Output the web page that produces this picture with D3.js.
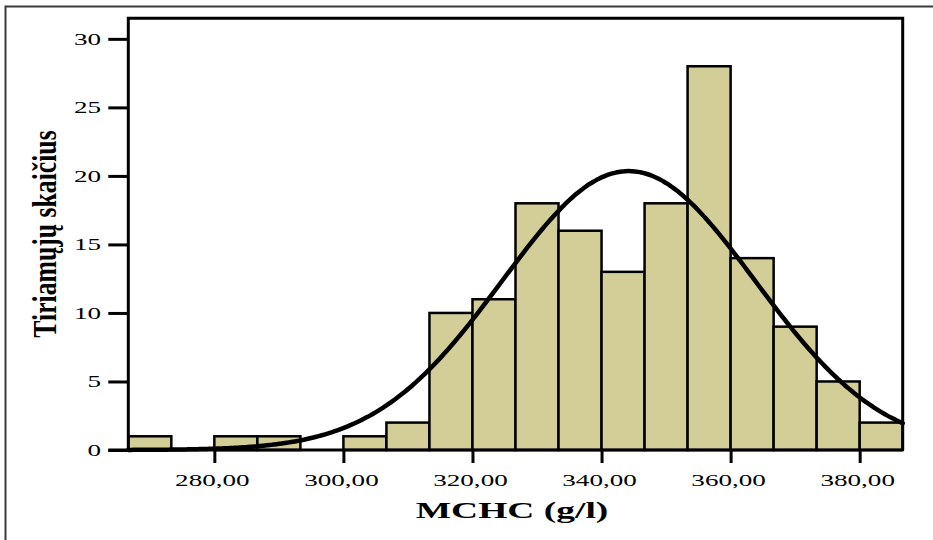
<!DOCTYPE html>
<html>
<head>
<meta charset="utf-8">
<script src="https://cdn.jsdelivr.net/npm/d3@7"></script>
<style>
  html, body { margin: 0; padding: 0; background: #fff; }
  svg { display: block; }
  text { font-family: "Liberation Serif", "Times New Roman", serif; fill: #000; }
</style>
</head>
<body>
<svg id="chart" width="933" height="540"></svg>
<script>
// Histogram of MCHC (g/l): bin edges run from 266.67 to 386.67 in steps of 6.67
const binStart = 266.6667;
const binWidth = 6.6667;
const counts = [1, 0, 1, 1, 0, 1, 2, 10, 11, 18, 16, 13, 18, 28, 14, 9, 5, 2];
const xTicks = [280, 300, 320, 340, 360, 380];
const yTicks = [0, 5, 10, 15, 20, 25, 30];
// Fitted normal curve parameters
const fitMean = 344.2;
const fitSd = 19.6;

const xLabel = "MCHC (g/l)";
const yLabel = "Tiriamųjų skaičius";

const svg = d3.select("#chart");
const W = 933, H = 540;
const plot = { left: 128.3, right: 902.7, top: 18.3, bottom: 450 };
const STRETCH = 1.55;

// Outer frame
svg.append("rect")
  .attr("x", 5.5).attr("y", 6.5)
  .attr("width", W + 10).attr("height", H + 10)
  .attr("fill", "none").attr("stroke", "#3a3a3a").attr("stroke-width", 2);

const x = d3.scaleLinear()
  .domain([binStart, binStart + binWidth * counts.length])
  .range([plot.left, plot.right]);
const y = d3.scaleLinear().domain([0, 31.5]).range([plot.bottom, plot.top]);

const bins = counts.map((c, i) => ({
  x0: binStart + i * binWidth,
  x1: binStart + (i + 1) * binWidth,
  n: c
})).filter(d => d.n > 0);

// Bars
svg.append("g").selectAll("rect").data(bins).join("rect")
  .attr("x", d => x(d.x0))
  .attr("y", d => y(d.n))
  .attr("width", d => x(d.x1) - x(d.x0))
  .attr("height", d => y(0) - y(d.n))
  .attr("fill", "#d3ce98")
  .attr("stroke", "#000")
  .attr("stroke-width", 2.5);

// Normal curve scaled to counts per bin
const total = d3.sum(counts);
const dens = v => total * binWidth / (fitSd * Math.sqrt(2 * Math.PI)) *
  Math.exp(-0.5 * Math.pow((v - fitMean) / fitSd, 2));
const xs = d3.range(0, 241).map(i => x.domain()[0] + (x.domain()[1] - x.domain()[0]) * i / 240);
svg.append("path")
  .datum(xs)
  .attr("d", d3.line().x(v => x(v)).y(v => y(dens(v))).curve(d3.curveBasis))
  .attr("fill", "none")
  .attr("stroke", "#000")
  .attr("stroke-width", 4.5)
  .attr("stroke-linecap", "round");

// Plot frame: left, top, right sides; bottom drawn by the x axis
svg.append("path")
  .attr("d", `M${plot.left},${plot.bottom} V${plot.top} H${plot.right} V${plot.bottom}`)
  .attr("fill", "none").attr("stroke", "#000").attr("stroke-width", 3);

// X axis
const xAxis = d3.axisBottom(x).tickValues(xTicks).tickSize(13).tickFormat(() => "");
const gx = svg.append("g").attr("transform", `translate(0,${plot.bottom})`).call(xAxis);
gx.select(".domain").attr("stroke", "#000").attr("stroke-width", 3)
  .attr("d", `M${plot.left - 20},0H${plot.right}`);
gx.selectAll(".tick line").attr("stroke", "#000").attr("stroke-width", 3);

svg.append("g").selectAll("text").data(xTicks).join("text")
  .attr("transform", d => `translate(${x(d) - 2},486) scale(${STRETCH},1)`)
  .attr("text-anchor", "middle")
  .attr("font-size", 17.5)
  .text(d => d3.format(".2f")(d).replace(".", ","));

// Y axis
const yAxis = d3.axisLeft(y).tickValues(yTicks).tickSize(20).tickFormat(() => "");
const gy = svg.append("g").attr("transform", `translate(${plot.left},0)`).call(yAxis);
gy.select(".domain").remove();
gy.selectAll(".tick line").attr("stroke", "#000").attr("stroke-width", 3);

svg.append("g").selectAll("text").data(yTicks).join("text")
  .attr("transform", d => `translate(101,${y(d) + 6}) scale(${STRETCH},1)`)
  .attr("text-anchor", "end")
  .attr("font-size", 17.5)
  .text(d => d);

// Axis titles
svg.append("text")
  .attr("transform", `translate(512,518) scale(1.63,1)`)
  .attr("text-anchor", "middle")
  .attr("font-size", 23)
  .attr("font-weight", "bold")
  .text(xLabel);

svg.append("text")
  .attr("transform", `translate(56,234) scale(1.3,1) rotate(-90)`)
  .attr("text-anchor", "middle")
  .attr("font-size", 25.7)
  .attr("font-weight", "bold")
  .text(yLabel);
</script>
</body>
</html>
